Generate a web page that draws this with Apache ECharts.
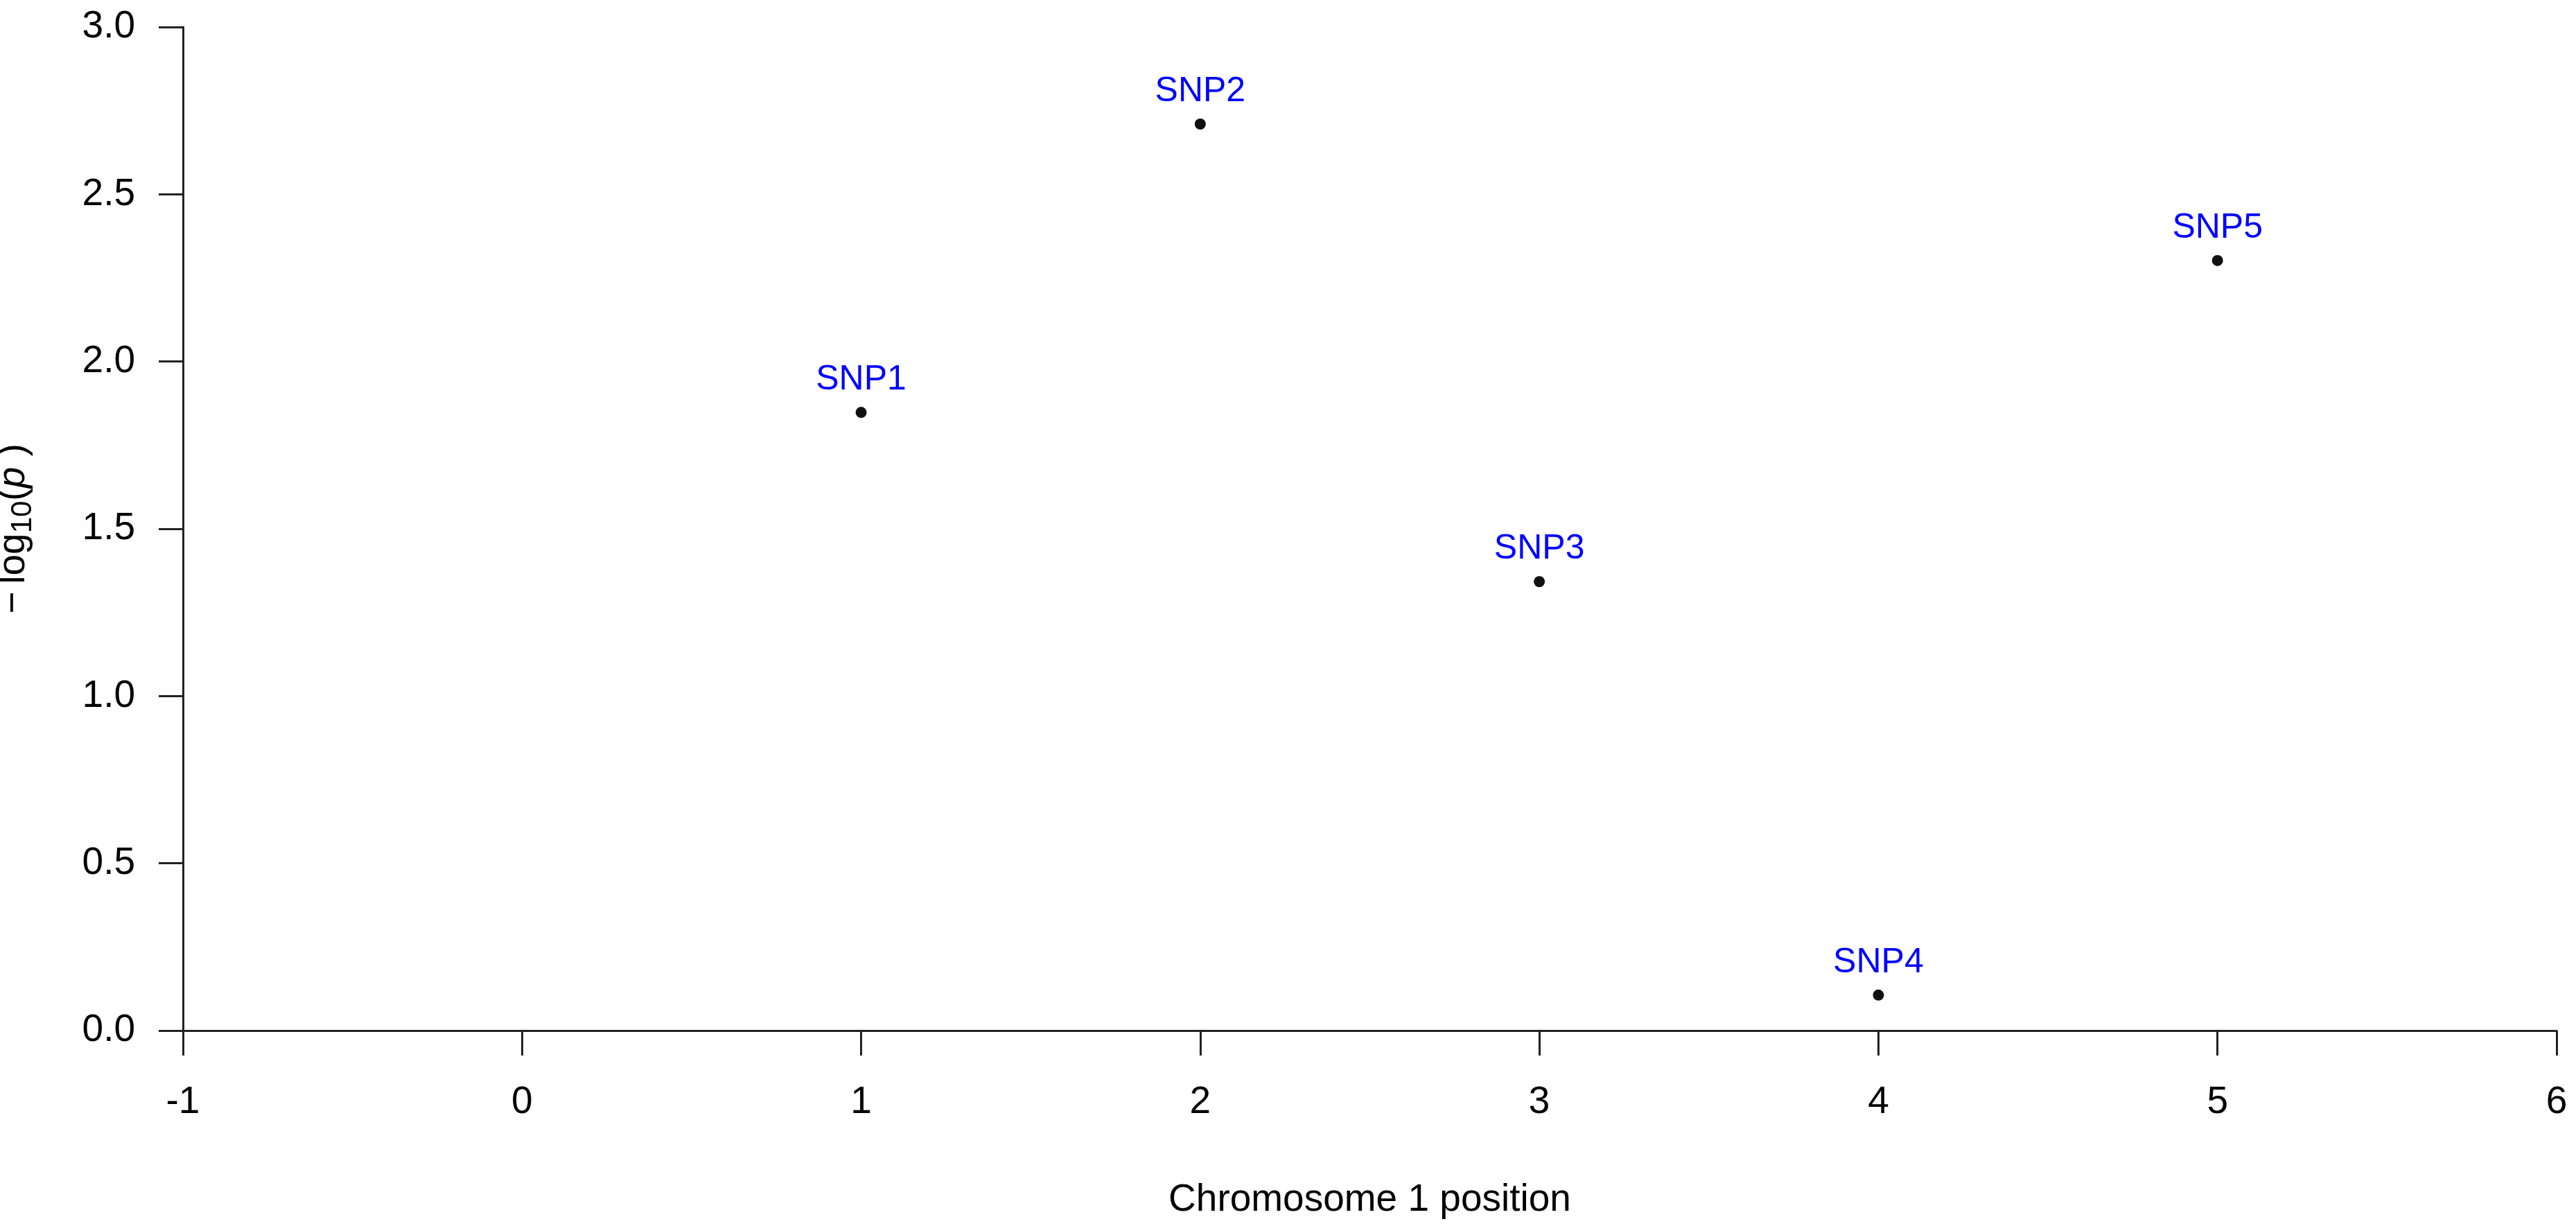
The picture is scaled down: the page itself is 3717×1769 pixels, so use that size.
<!DOCTYPE html>
<html>
<head>
<meta charset="utf-8">
<script src="https://cdn.jsdelivr.net/npm/echarts@6/dist/echarts.min.js"></script>
<style>
html,body{margin:0;padding:0;background:#fff;}
#c{width:3717px;height:1769px;}
</style>
</head>
<body>
<div id="c"></div>
<script>
var snpNames = ['SNP1', 'SNP2', 'SNP3', 'SNP4', 'SNP5'];
var positions = [1, 2, 3, 4, 5];
var logP = [1.848, 2.710, 1.342, 0.106, 2.302];
var xTicks = [-1, 0, 1, 2, 3, 4, 5, 6];
var yTicks = ['0.0', '0.5', '1.0', '1.5', '2.0', '2.5', '3.0'];

var FONT = '"Liberation Sans", Arial, sans-serif';
var data = positions.map(function (x, i) { return { value: [x, logP[i]], name: snpNames[i] }; });

var chart = echarts.init(document.getElementById('c'));
chart.setOption({
  animation: false,
  backgroundColor: '#ffffff',
  grid: { left: 264, right: 28, top: 39, bottom: 282, containLabel: false, outerBoundsMode: 'none' },
  xAxis: {
    type: 'value',
    min: xTicks[0], max: xTicks[xTicks.length - 1], interval: 1,
    splitLine: { show: false },
    axisLine: { show: true, onZero: false, lineStyle: { color: '#222222', width: 3 } },
    axisTick: { show: true, length: 36, lineStyle: { color: '#222222', width: 3 } },
    axisLabel: { margin: 76, fontSize: 55, color: '#000', fontFamily: FONT },
    name: 'Chromosome 1 position',
    nameLocation: 'middle', nameGap: 217,
    nameTextStyle: { fontSize: 55, color: '#000', fontFamily: FONT }
  },
  yAxis: {
    type: 'value',
    min: 0, max: 3, interval: 0.5,
    splitLine: { show: false },
    axisLine: { show: true, onZero: false, lineStyle: { color: '#222222', width: 3 } },
    axisTick: { show: true, length: 35, lineStyle: { color: '#222222', width: 3 } },
    axisLabel: {
      margin: 69, fontSize: 55, color: '#000', fontFamily: FONT,
      formatter: function (v) { return yTicks[Math.round(v / 0.5)]; }
    },
    name: '{n|\u2212\u2009log}{s|10}{n|(}{i|p}{n| )}',
    nameLocation: 'middle', nameGap: 217, nameRotate: 90,
    nameTextStyle: {
      fontSize: 55, color: '#000', fontFamily: FONT,
      rich: {
        n: { fontSize: 55, fontFamily: FONT, color: '#000', verticalAlign: 'top', lineHeight: 55 },
        s: { fontSize: 42, fontFamily: FONT, color: '#000', verticalAlign: 'top', lineHeight: 42, padding: [20, 0, 0, 0] },
        i: { fontSize: 55, fontFamily: FONT, color: '#000', fontStyle: 'italic', verticalAlign: 'top', lineHeight: 55 }
      }
    }
  },
  series: [{
    type: 'scatter',
    data: data,
    symbol: 'circle',
    symbolSize: 16,
    itemStyle: { color: '#111111', opacity: 1 },
    label: {
      show: true, position: 'top', distance: 14,
      formatter: function (p) { return p.name; },
      fontSize: 50, color: '#0000ff', fontFamily: FONT
    }
  }]
});
</script>
</body>
</html>
